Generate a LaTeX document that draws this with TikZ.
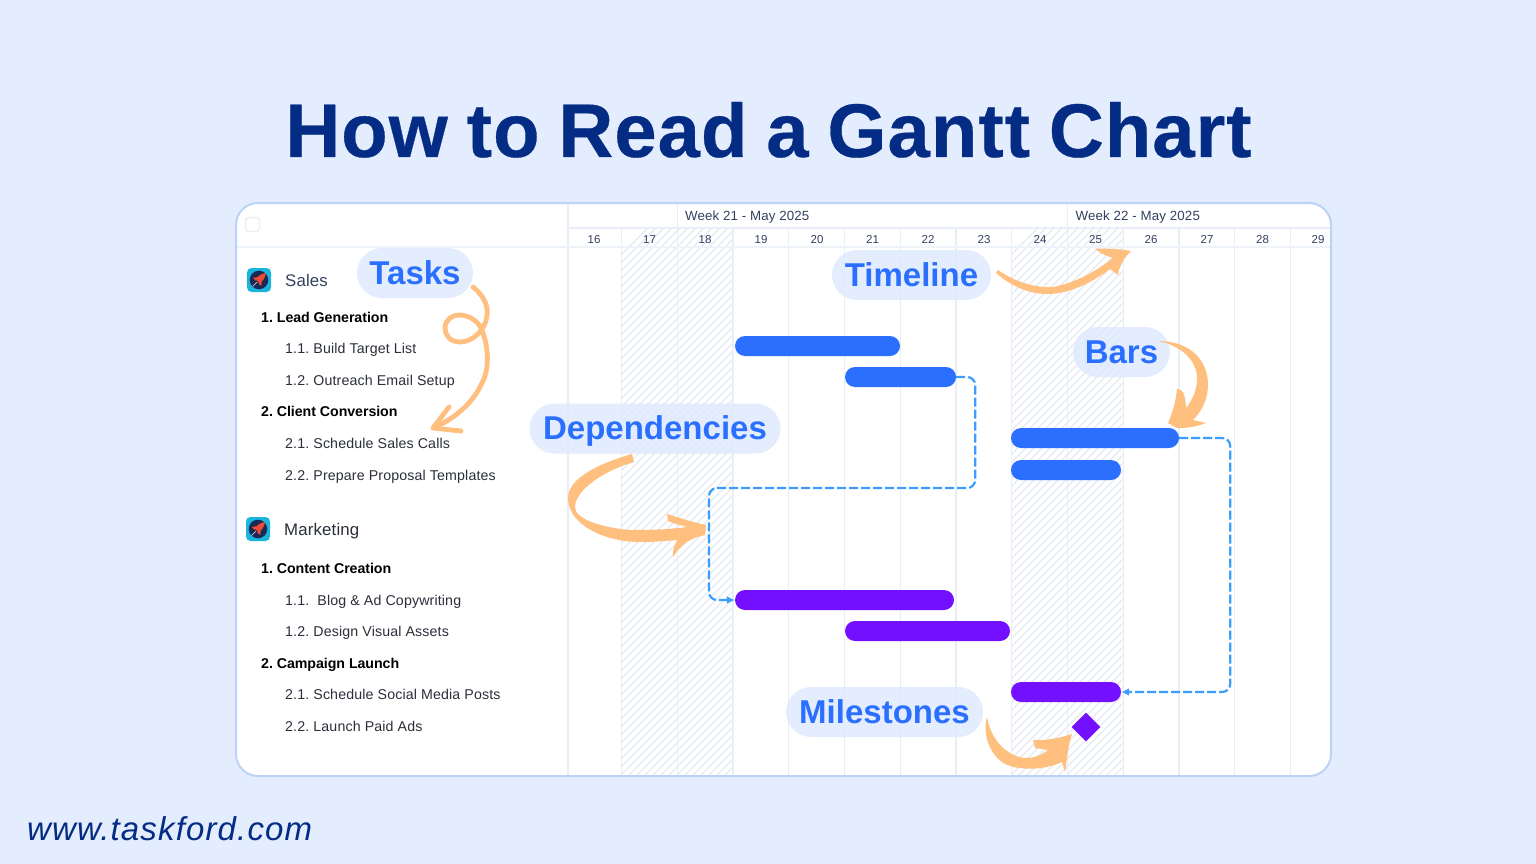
\documentclass[tikz,border=0pt]{standalone}
\usepackage{fontspec}
\setmainfont{Liberation Sans}
\usetikzlibrary{arrows.meta,shapes.geometric}
\definecolor{pagebg}{HTML}{E3EDFD}
\definecolor{cardline}{HTML}{BDD3F6}
\definecolor{gridc}{HTML}{E8EDF6}
\definecolor{hatchc}{HTML}{E4E9F2}
\definecolor{headc}{HTML}{EEF2F9}
\definecolor{titlec}{HTML}{042C85}
\definecolor{barblue}{HTML}{2B6FFF}
\definecolor{barpurple}{HTML}{7210FF}
\definecolor{depc}{HTML}{3B9EFF}
\definecolor{orangec}{HTML}{FFBF7F}
\definecolor{pillc}{HTML}{DFEAFD}
\definecolor{headtext}{HTML}{33405F}
\definecolor{itemc}{HTML}{2B2F3A}
\definecolor{iconteal}{HTML}{19B5DC}
\definecolor{iconnavy}{HTML}{1B2A55}
\definecolor{iconred}{HTML}{EE4A35}
\newfontfamily\itemfont[LetterSpace=1.0]{Liberation Sans}
\newfontfamily\itemboldfont[LetterSpace=-0.4]{Liberation Sans}
\newfontfamily\titlefont[LetterSpace=1.4,WordSpace=0.85,BoldFeatures={FakeBold=0.4}]{Liberation Sans}
\newfontfamily\urlfont[LetterSpace=3.5]{Liberation Sans}
\AtBeginDocument{\frenchspacing}
\tikzset{
  gridline/.style={draw=gridc,line width=1.2pt},
  hatchline/.style={draw=hatchc,line width=1.1pt},
  barnode/.style={rounded corners=10pt,minimum height=20pt,inner sep=0pt,draw=none},
  bluebar/.style={barnode,fill=barblue},
  purplebar/.style={barnode,fill=barpurple},
  dep/.style={draw=depc,line width=2.2pt,dash pattern=on 9pt off 3pt,rounded corners=8pt},
  pill/.style={fill=pillc,fill opacity=.85,text opacity=1,rounded corners=25pt,inner sep=0pt,minimum height=50pt,
    text height=30pt,text depth=8pt,text=barblue,font=\fontsize{33}{34}\selectfont\bfseries},
  grouptxt/.style={anchor=base west,inner sep=0pt,font=\fontsize{16.8}{18}\selectfont\itemfont,text=headtext},
  boldtxt/.style={anchor=base west,inner sep=0pt,font=\fontsize{14.2}{16}\selectfont\itemboldfont\bfseries,text=black},
  itemtxt/.style={anchor=base west,inner sep=0pt,font=\fontsize{14.2}{16}\selectfont\itemfont,text=itemc},
  weektxt/.style={anchor=base west,inner sep=0pt,font=\fontsize{13.3}{15}\selectfont\itemfont,text=headtext},
  daytxt/.style={anchor=base,inner sep=0pt,font=\fontsize{11.5}{13}\selectfont\itemfont,text=headtext},
  orangefill/.style={fill=orangec,draw=none},
  rocketicon/.pic={
    \fill[iconteal,rounded corners=4.5pt] (-12,-12) rectangle (12,12);
    \fill[iconnavy] (0,0) circle (9.3);
    \draw[white!75!iconnavy,line width=.7pt] (-6.5,6.5) -- (-2,2);
    \fill[iconred] (7,-7) .. controls (2,-6.5) and (-2,-3) .. (-3,-0.5) -- (0.5,3) .. controls (3,2) and (6.5,-2) .. (7,-7) -- cycle;
    \fill[iconred] (-1,-3) -- (-6,-2) -- (-3,1) -- cycle;
    \fill[iconred] (3,1) -- (2,6) -- (-1,3) -- cycle;
  }
}
\begin{document}
\begin{tikzpicture}[x=1pt,y=-1pt]
\useasboundingbox (0,0) rectangle (1536,864);
\fill[pagebg] (0,0) rectangle (1536,864);
% title
\node[inner sep=0pt,anchor=base,text=titlec,font=\fontsize{76}{80}\selectfont\titlefont\bfseries] (title) at (768.5,157) {How to Read a Gantt Chart};
\node[inner sep=0pt,anchor=base west,text=titlec,font=\fontsize{33}{34}\selectfont\urlfont\itshape] (url) at (27,840) {www.taskford.com};
% card
\fill[white,rounded corners=22pt] (236,203) rectangle (1331,776);
\begin{scope}
  \clip[rounded corners=22pt] (236,203) rectangle (1331,776);
  \begin{scope}
    \clip (621.5,228) rectangle (733,776);
    \foreach \k in {0,...,90} {\draw[hatchline] (100+8*\k,776) -- ++(560,-560);}
  \end{scope}
  \begin{scope}
    \clip (1011.75,228) rectangle (1123.25,776);
    \foreach \k in {0,...,90} {\draw[hatchline] (490+8*\k,776) -- ++(560,-560);}
  \end{scope}
  \foreach \x in {568,621.5,733,788.75,844.5,900.25,956,1011.75,1123.25,1179,1234.75,1290.5}
    {\draw[gridline] (\x,228) -- (\x,776);}
  \foreach \x in {677.25,1067.5} {\draw[gridline] (\x,203) -- (\x,776);}
  \draw[gridline] (568,203) -- (568,228);
  \draw[gridline] (568,228) -- (1331,228);
  \draw[headc,line width=2pt] (236,247) -- (1331,247);
\end{scope}
\draw[cardline,line width=2pt,rounded corners=22pt] (236,203) rectangle (1331,776);
\draw[gridc,line width=1.4pt,rounded corners=3pt] (245.5,217.5) rectangle (259.5,231.5);
% header text
\node[weektxt] (w21) at (685,220) {Week 21 - May 2025};
\node[weektxt] (w22) at (1075.5,220) {Week 22 - May 2025};
\foreach \x/\d in {594/16,649.5/17,705/18,761/19,817/20,872.5/21,928/22,984/23,1040/24,1095.5/25,1151/26,1207/27,1262.5/28,1318/29}
  {\node[daytxt] (d\d) at (\x,243) {\d};}
% left list
\pic at (259,280) {rocketicon};
\pic at (258,529) {rocketicon};
\node[grouptxt] (gs) at (285,286) {Sales};
\node[grouptxt,text=itemc] (gm) at (284,535) {Marketing};
\node[boldtxt] (t1) at (261,322) {1. Lead Generation};
\node[itemtxt] (t2) at (285,353) {1.1. Build Target List};
\node[itemtxt] (t3) at (285,385) {1.2. Outreach Email Setup};
\node[boldtxt] (t4) at (261,416) {2. Client Conversion};
\node[itemtxt] (t5) at (285,448) {2.1. Schedule Sales Calls};
\node[itemtxt] (t6) at (285,480) {2.2. Prepare Proposal Templates};
\node[boldtxt] (t7) at (261,573) {1. Content Creation};
\node[itemtxt] (t8) at (285,605) {1.1.\ \ Blog \& Ad Copywriting};
\node[itemtxt] (t9) at (285,636) {1.2. Design Visual Assets};
\node[boldtxt] (t10) at (261,668) {2. Campaign Launch};
\node[itemtxt] (t11) at (285,699) {2.1. Schedule Social Media Posts};
\node[itemtxt] (t12) at (285,731) {2.2. Launch Paid Ads};
% bars
\node[bluebar,minimum width=165pt] (b1) at (817.5,346) {};
\node[bluebar,minimum width=111pt] (b2) at (900.5,377) {};
\node[bluebar,minimum width=168pt] (b3) at (1095,438) {};
\node[bluebar,minimum width=110pt] (b4) at (1066,470) {};
\node[purplebar,minimum width=219pt] (p1) at (844.5,600) {};
\node[purplebar,minimum width=165pt] (p2) at (927.5,631) {};
\node[purplebar,minimum width=110pt] (p3) at (1066,692) {};
\node[diamond,fill=barpurple,inner sep=0pt,minimum width=29pt,minimum height=29pt] (ms) at (1086,727) {};
% dependencies
\draw[dep,-{Latex[length=8pt,width=8pt]}] (b2.east) -- ++(19,0) -- ++(0,111) -- (709,488) -- (709,600) -- (p1.west);
\draw[dep,-{Latex[length=8pt,width=8pt]}] (b3.east) -- ++(51,0) -- ++(0,254) -- (p3.east);
% pills
\node[pill,minimum width=116pt] (ptasks) at (415,273) {Tasks};
\node[pill,minimum width=159pt] (ptime) at (911.5,275) {Timeline};
\node[pill,minimum width=97pt] (pbars) at (1121.5,352) {Bars};
\node[pill,minimum width=251pt] (pdep) at (655,428.5) {Dependencies};
\node[pill,minimum width=197pt] (pmile) at (884.5,712) {Milestones};
% orange arrows
\draw[orangec,line width=4.8pt,line cap=round,line join=round]
  (473,287) .. controls (482,294) and (489,305) .. (487,316)
  .. controls (485,331) and (472,342) .. (460,342)
  .. controls (450,342) and (445,335) .. (445,328)
  .. controls (445,320) and (452,315) .. (459,315)
  .. controls (470,315) and (480,322) .. (483,333)
  .. controls (489,350) and (489,370) .. (482,383)
  .. controls (472,405) and (452,420) .. (433,428);
\draw[orangec,line width=4.8pt,line cap=round,line join=round] (449,407) -- (433,428) -- (461,431);
\fill[orangefill] (996,273) .. controls (1012,287) and (1030,294) .. (1047,294)
  .. controls (1068,294) and (1090,284) .. (1110,269)
  -- (1118,275) .. controls (1119,266) and (1124,258) .. (1131,251)
  .. controls (1120,249) and (1106,248) .. (1095,249)
  .. controls (1100,253) and (1106,256) .. (1113,258)
  .. controls (1095,272) and (1075,283) .. (1053,287)
  .. controls (1035,288) and (1015,282) .. (998,270) -- cycle;
\fill[orangefill] (1158,341) .. controls (1190,341) and (1208,360) .. (1208,385)
  .. controls (1208,400) and (1201,412) .. (1193,420)
  -- (1206,423) .. controls (1196,427) and (1187,428) .. (1177,428)
  -- (1168,423) .. controls (1173,412) and (1176,400) .. (1177,389)
  .. controls (1183,389) and (1185,393) .. (1186,408)
  .. controls (1194,398) and (1197,388) .. (1197,378)
  .. controls (1197,360) and (1180,345) .. (1158,341) -- cycle;
\fill[orangefill] (632,454) .. controls (600,463) and (568,478) .. (568,498)
  .. controls (568,525) and (605,542) .. (640,542)
  .. controls (655,542) and (666,541) .. (677,540)
  .. controls (675,545) and (672,550) .. (673,557)
  .. controls (680,545) and (690,538) .. (705,535)
  -- (706,525) .. controls (692,522) and (680,518) .. (667,514)
  -- (668,521) .. controls (674,524) and (681,525) .. (687,527)
  .. controls (665,530) and (645,530) .. (630,530)
  .. controls (605,528) and (575,520) .. (575,507)
  .. controls (575,490) and (605,470) .. (634,462) -- cycle;
\fill[orangefill] (987,717) .. controls (982,735) and (990,755) .. (1005,764)
  .. controls (1020,771) and (1045,770) .. (1062,762)
  -- (1065,772) .. controls (1067,760) and (1068,745) .. (1072,734)
  .. controls (1060,738) and (1045,741) .. (1033,740)
  -- (1035,748) -- (1048,750)
  .. controls (1040,756) and (1033,758) .. (1027,758)
  .. controls (1012,758) and (992,745) .. (987,717) -- cycle;
\end{tikzpicture}
\end{document}
